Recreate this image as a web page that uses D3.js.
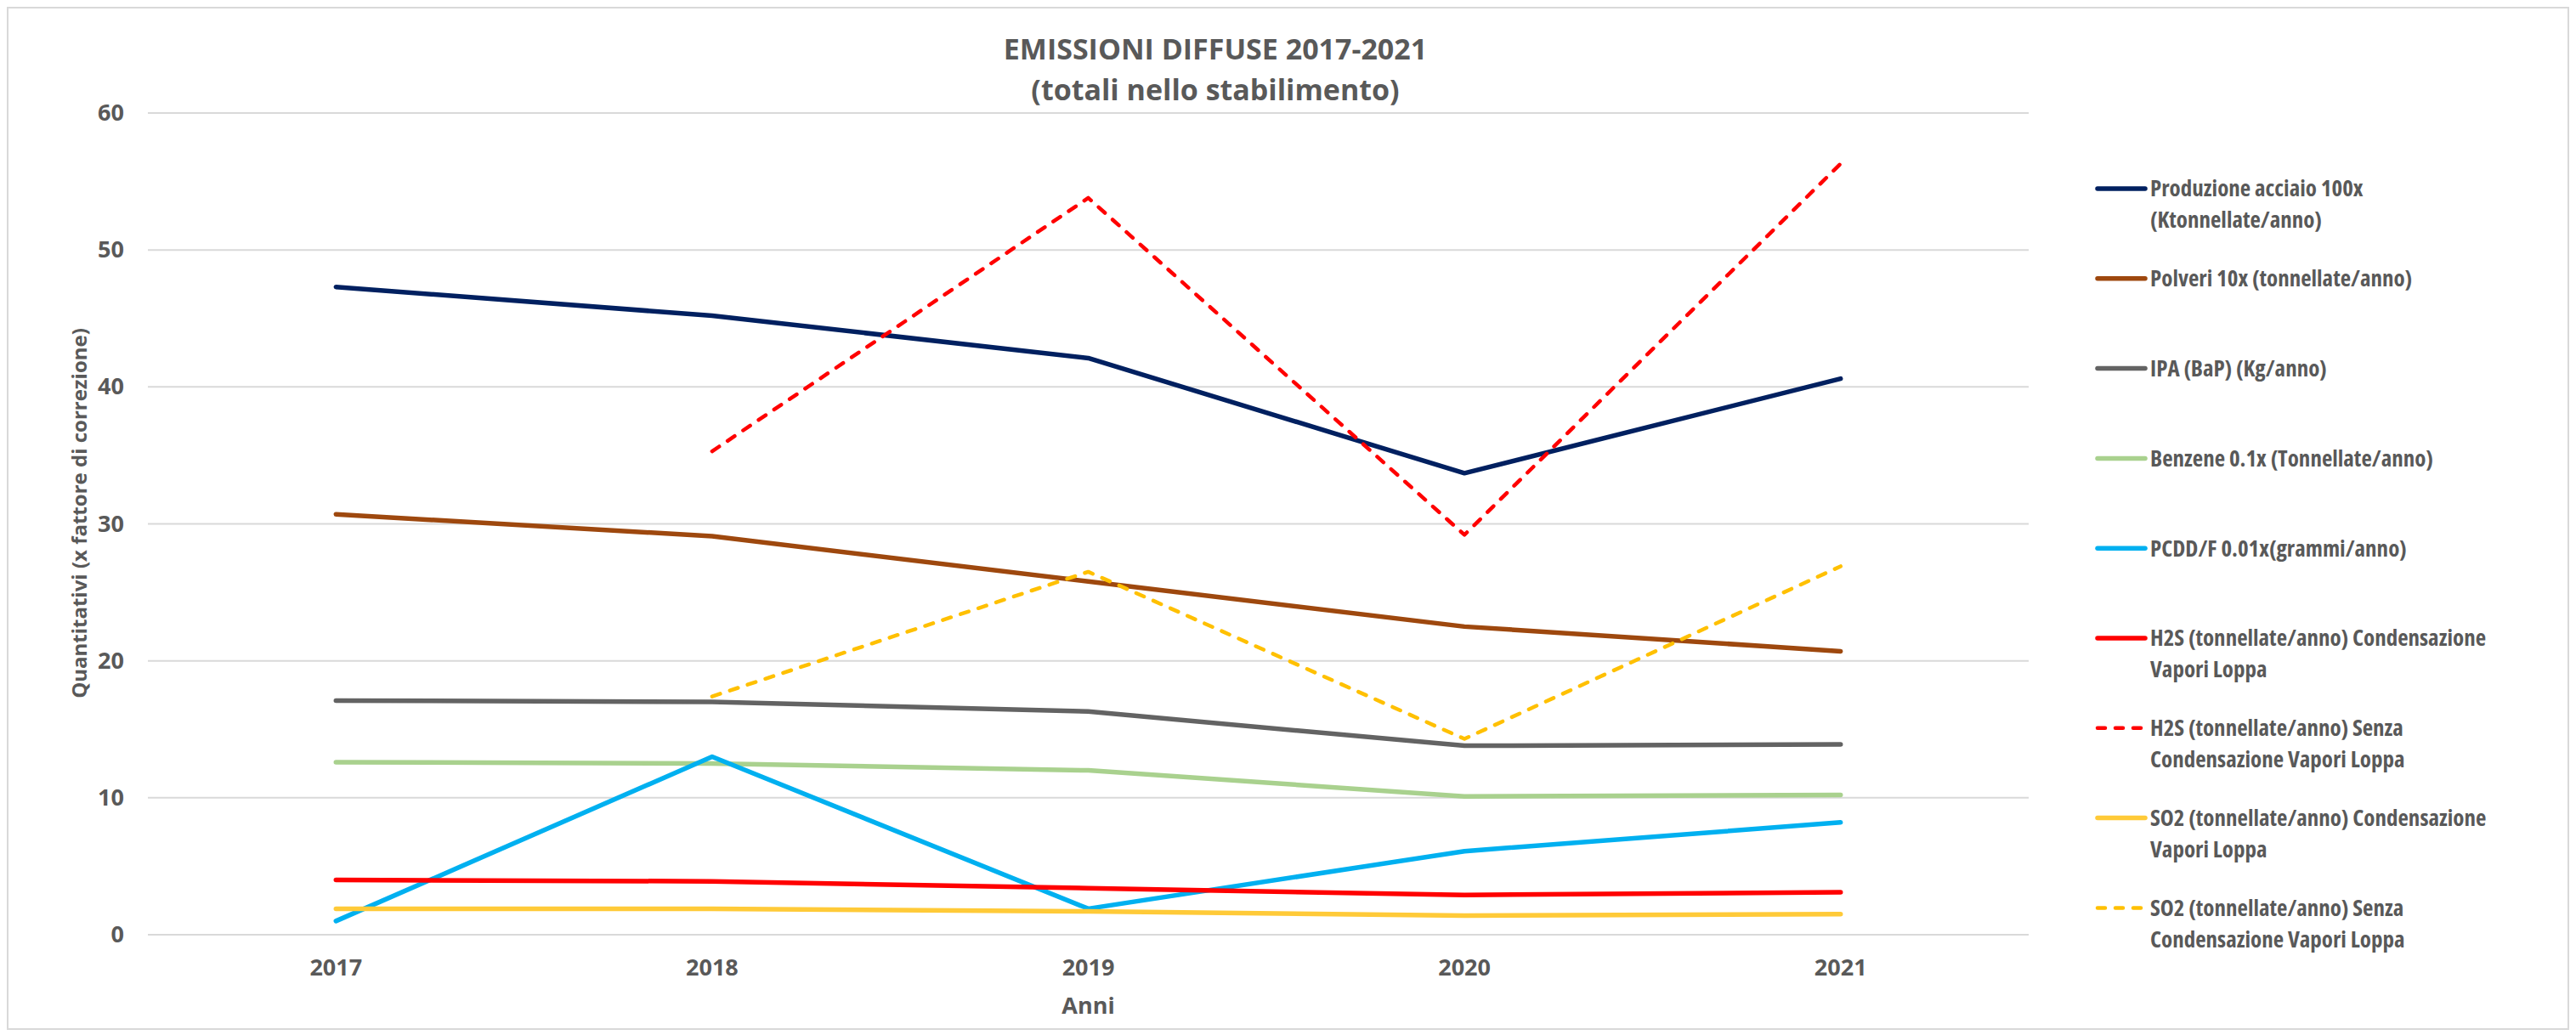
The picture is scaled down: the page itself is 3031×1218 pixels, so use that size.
<!DOCTYPE html>
<html>
<head>
<meta charset="utf-8">
<script src="https://cdn.jsdelivr.net/npm/d3@7"></script>
<style>
  html, body { margin: 0; padding: 0; background: #fff; }
  svg { display: block; }
  text { font-family: "Open Sans", "Noto Sans", sans-serif; font-weight: 700; fill: #595959; }
</style>
</head>
<body>
<svg id="chart" width="3031" height="1218"></svg>
<script>
// Years on the category axis
const anni = ["2017", "2018", "2019", "2020", "2021"];
const yTicks = [0, 10, 20, 30, 40, 50, 60];

// Series values (null = no data for that year)
const produzioneAcciaio = [47.3, 45.2, 42.1, 33.7, 40.6];
const polveri = [30.7, 29.1, 25.8, 22.5, 20.7];
const ipa = [17.1, 17.0, 16.3, 13.8, 13.9];
const benzene = [12.6, 12.5, 12.0, 10.1, 10.2];
const pcdd = [1.0, 13.0, 1.9, 6.1, 8.2];
const h2sCond = [4.0, 3.9, 3.4, 2.9, 3.1];
const h2sSenza = [null, 35.3, 53.8, 29.2, 56.3];
const so2Cond = [1.9, 1.9, 1.7, 1.4, 1.5];
const so2Senza = [null, 17.4, 26.5, 14.3, 26.9];

const seriesNames = [
  "Produzione acciaio 100x (Ktonnellate/anno)",
  "Polveri 10x (tonnellate/anno)",
  "IPA (BaP) (Kg/anno)",
  "Benzene 0.1x (Tonnellate/anno)",
  "PCDD/F 0.01x(grammi/anno)",
  "H2S (tonnellate/anno) Condensazione Vapori Loppa",
  "H2S (tonnellate/anno) Senza Condensazione Vapori Loppa",
  "SO2 (tonnellate/anno) Condensazione Vapori Loppa",
  "SO2 (tonnellate/anno) Senza Condensazione Vapori Loppa"
];
// Legend text broken into the lines it is shown on
const legendLines = [
  ["Produzione acciaio 100x", "(Ktonnellate/anno)"],
  ["Polveri 10x (tonnellate/anno)"],
  ["IPA (BaP) (Kg/anno)"],
  ["Benzene 0.1x (Tonnellate/anno)"],
  ["PCDD/F 0.01x(grammi/anno)"],
  ["H2S (tonnellate/anno) Condensazione", "Vapori Loppa"],
  ["H2S (tonnellate/anno) Senza", "Condensazione Vapori Loppa"],
  ["SO2 (tonnellate/anno) Condensazione", "Vapori Loppa"],
  ["SO2 (tonnellate/anno) Senza", "Condensazione Vapori Loppa"]
];
const seriesValues = [produzioneAcciaio, polveri, ipa, benzene, pcdd, h2sCond, h2sSenza, so2Cond, so2Senza];

// Styling per series
const colors = ["#002060", "#9E480E", "#636363", "#A9D18E", "#00B0F0", "#FF0000", "#FF0000", "#FFCA38", "#FFC000"];
const dashed = [false, false, false, false, false, false, true, false, true];

const W = 3031, H = 1218;
const plot = { left: 174, right: 2387, top: 133, bottom: 1100 };

const svg = d3.select("#chart");

// Outer chart frame
svg.append("rect")
  .attr("x", 9).attr("y", 9).attr("width", W - 18).attr("height", H - 16)
  .attr("fill", "#fff").attr("stroke", "#d9d9d9").attr("stroke-width", 2);

const x = d3.scaleBand().domain(anni).range([plot.left, plot.right]).padding(0);
const y = d3.scaleLinear().domain([0, 60]).range([plot.bottom, plot.top]);
const cx = d => x(d) + x.bandwidth() / 2;

// Horizontal gridlines
svg.append("g").selectAll("line").data(yTicks).join("line")
  .attr("x1", plot.left).attr("x2", plot.right)
  .attr("y1", d => y(d)).attr("y2", d => y(d))
  .attr("stroke", "#d9d9d9").attr("stroke-width", 2);

// Y axis labels
const yAxis = d3.axisLeft(y).tickValues(yTicks).tickSize(0).tickPadding(28);
svg.append("g").attr("transform", `translate(${plot.left},0)`).call(yAxis)
  .call(g => g.select(".domain").remove())
  .selectAll("text")
  .attr("font-size", 27).style("font-stretch", "93%").attr("fill", "#595959")
  .attr("font-family", null);

// X axis labels
const xAxis = d3.axisBottom(x).tickSize(0).tickPadding(29);
svg.append("g").attr("transform", `translate(0,${plot.bottom})`).call(xAxis)
  .call(g => g.select(".domain").remove())
  .selectAll("text")
  .attr("font-size", 27).style("font-stretch", "93%").attr("fill", "#595959")
  .attr("font-family", null);

// Axis titles
svg.append("text")
  .attr("transform", `translate(102,604) rotate(-90)`)
  .attr("text-anchor", "middle")
  .attr("font-size", 24).attr("font-weight", 600).attr("fill", "#6b6b6b")
  .text("Quantitativi (x fattore di correzione)");

svg.append("text")
  .attr("x", (plot.left + plot.right) / 2).attr("y", 1193)
  .attr("text-anchor", "middle")
  .attr("font-size", 27).style("font-stretch", "93%")
  .text("Anni");

// Title
const title = svg.append("text").attr("text-anchor", "middle")
  .attr("font-size", 34).style("font-stretch", "100%");
title.append("tspan").attr("x", 1430).attr("y", 70).text("EMISSIONI DIFFUSE 2017-2021");
title.append("tspan").attr("x", 1430).attr("y", 118).text("(totali nello stabilimento)");

// Series lines
const line = d3.line()
  .defined(d => d.v !== null)
  .x(d => cx(d.anno))
  .y(d => y(d.v));

const linesG = svg.append("g");
seriesValues.forEach((vals, i) => {
  const pts = anni.map((a, j) => ({ anno: a, v: vals[j] }));
  linesG.append("path")
    .datum(pts)
    .attr("d", line)
    .attr("fill", "none")
    .attr("stroke", colors[i])
    .attr("stroke-width", dashed[i] ? 4.5 : 5.5)
    .attr("stroke-linejoin", "round")
    .attr("stroke-linecap", "round")
    .attr("stroke-dasharray", dashed[i] ? "10,12" : null);
});

// Legend
const legendTop = 222, legendStep = 105.8, lineH = 37;
const leg = svg.append("g");
legendLines.forEach((lines, i) => {
  const ly = legendTop + i * legendStep;
  leg.append("line")
    .attr("x1", 2468).attr("x2", 2524).attr("y1", ly).attr("y2", ly)
    .attr("stroke", colors[i])
    .attr("stroke-width", dashed[i] ? 4.5 : 5.5)
    .attr("stroke-linecap", "round")
    .attr("stroke-dasharray", dashed[i] ? "9,12" : null);
  const t = leg.append("text").attr("font-size", 27).style("font-stretch", "80%");
  lines.forEach((s, k) => {
    t.append("tspan").attr("x", 2530).attr("y", ly + k * lineH)
      .attr("dy", "0.35em").text(s);
  });
});
</script>
</body>
</html>
